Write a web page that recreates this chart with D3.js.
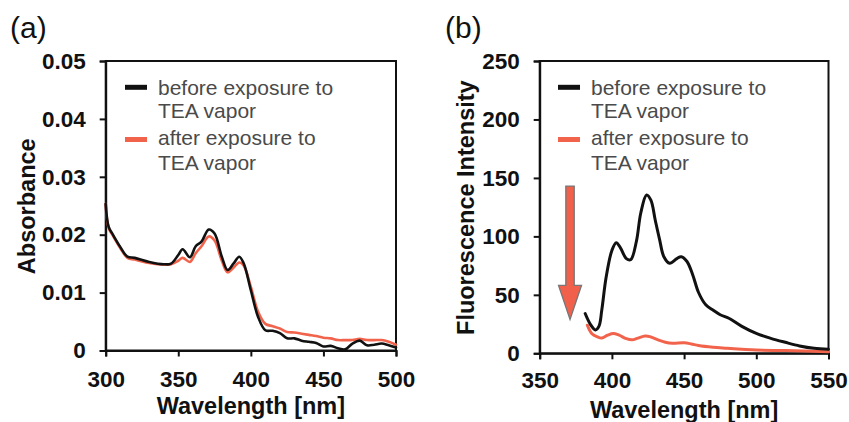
<!DOCTYPE html>
<html>
<head>
<meta charset="utf-8">
<script src="https://cdn.jsdelivr.net/npm/d3@7/dist/d3.min.js"></script>
<style>
  html, body { margin: 0; padding: 0; background: #fff; }
  svg { display: block; }
  .tick text { font-family: "Liberation Sans", Arial, sans-serif; font-weight: bold; font-size: 22.5px; fill: #111; }
  .axis-title { font-family: "Liberation Sans", Arial, sans-serif; font-weight: bold; font-size: 23.5px; fill: #111; }
  .legend-text { font-family: "Liberation Sans", Arial, sans-serif; font-size: 21px; fill: #4a4a4a; }
  .panel-label { font-family: "Liberation Sans", Arial, sans-serif; font-size: 30px; fill: #111; }
</style>
</head>
<body>
<svg id="chart" width="849" height="422"></svg>
<script>
// ---- (a) UV-vis absorbance ----
const absWavelength = [300,302,305,310,315,320,330,340,345,350,353,358,362,366,371,375,380,384,388,392,395,400,405,410,415,420,425,430,435,440,445,450,455,460,465,470,475,480,485,490,495,500];
const absBefore = [0.0253,0.0214,0.0200,0.0179,0.0162,0.0160,0.0153,0.0149,0.0150,0.0165,0.0175,0.0161,0.0180,0.0188,0.0209,0.0202,0.0162,0.0139,0.0150,0.0162,0.0151,0.0104,0.0058,0.0035,0.0034,0.0030,0.0021,0.0021,0.0017,0.0015,0.0013,0.0007,0.0008,0.0004,0.0002,0.0012,0.0017,0.0009,0.0010,0.0012,0.0009,0.0005];
const absAfter = [0.0253,0.0212,0.0198,0.0177,0.0160,0.0157,0.0151,0.0148,0.0149,0.0155,0.0160,0.0153,0.0168,0.0180,0.0197,0.0190,0.0155,0.0135,0.0143,0.0152,0.0147,0.0110,0.0067,0.0046,0.0042,0.0038,0.0032,0.0031,0.0029,0.0027,0.0025,0.0022,0.0021,0.0018,0.0018,0.0018,0.0020,0.0018,0.0018,0.0018,0.0015,0.0010];
const absXTicks = [300,350,400,450,500];
const absYTicks = [0,0.01,0.02,0.03,0.04,0.05];
const absYTickLabels = ["0","0.01","0.02","0.03","0.04","0.05"];

// ---- (b) fluorescence emission ----
const flBeforeWavelength = [381.5,385,388.5,391,393,396,400,403,406,410,413,417,420,424,427,430,433,436,440,445,448,452,456,460,465,470,475,481,490,500,510,520,530,540,550];
const flBefore = [34,25,20,23,37,65,88,94.6,90,81,80,96,120,135.4,131,114,97.5,82.6,77,81,82.6,78.5,67,52,41.5,37,33,30,23,17,12.8,9.4,6.3,4.3,3.5];
const flAfterWavelength = [383,386,390,393,397,401,405,410,414,418,423,427,432,437,442,450,455,460,470,480,490,500,520,550];
const flAfter = [24,17,14,13,15.5,17,15.5,12.5,11.5,13,14.8,14,11.5,9.5,8.6,9,8,6.6,5.1,4.3,3.5,2.8,2.3,1.4];
const flXTicks = [350,400,450,500,550];
const flYTicks = [0,50,100,150,200,250];
const flYTickLabels = ["0","50","100","150","200","250"];

// quenching arrow: wavelength position, start and end intensity
const arrowWavelength = 371;
const arrowFrom = 143;
const arrowTo = 29;

const seriesNames = ["before exposure to|TEA vapor", "after exposure to|TEA vapor"];
const seriesColors = ["#111111", "#f2634c"];

const svg = d3.select("#chart");

function drawPanel(opt) {
  const x = d3.scaleLinear().domain(opt.xDomain).range(opt.xRange);
  const y = d3.scaleLinear().domain(opt.yDomain).range(opt.yRange);
  const g = svg.append("g");

  // plot frame
  g.append("rect")
    .attr("x", opt.xRange[0]).attr("y", opt.yRange[1])
    .attr("width", opt.xRange[1] - opt.xRange[0])
    .attr("height", opt.yRange[0] - opt.yRange[1])
    .attr("fill", "none").attr("stroke", "#111").attr("stroke-width", 2);

  const xAxis = g.append("g")
    .attr("transform", `translate(0,${opt.yRange[0]})`)
    .call(d3.axisBottom(x).tickValues(opt.xTicks).tickSize(6).tickPadding(opt.xPad).tickFormat(d3.format("d")));
  const yAxis = g.append("g")
    .attr("transform", `translate(${opt.xRange[0]},0)`)
    .call(d3.axisLeft(y).tickValues(opt.yTicks).tickSize(6).tickPadding(opt.yPad)
      .tickFormat((d, i) => opt.yLabels[i]));
  [xAxis, yAxis].forEach(a => {
    a.select(".domain").attr("stroke", "#111").attr("stroke-width", 2);
    a.selectAll(".tick line").attr("stroke", "#111").attr("stroke-width", 2);
    a.attr("font-family", null).attr("font-size", null);
  });

  // spectra
  const line = d3.line().curve(d3.curveCatmullRom.alpha(0.5))
    .x(d => x(d[0])).y(d => y(d[1]));
  opt.series.forEach((s, i) => {
    const pts = s.wl.map((w, k) => [w, s.v[k]]);
    g.append("path").datum(pts)
      .attr("d", line)
      .attr("fill", "none")
      .attr("stroke", seriesColors[i])
      .attr("stroke-width", opt.lineWidth)
      .attr("stroke-linejoin", "round")
      .attr("stroke-linecap", "round");
  });
  // draw black on top of red in the overlapping region
  g.selectAll("path").filter(function() { return d3.select(this).attr("stroke") === seriesColors[0]; }).raise();

  // legend
  const legendRows = [[95, 118], [145, 169.5]];
  const sampleY = [87.3, 139.5];
  seriesNames.forEach((name, i) => {
    g.append("line")
      .attr("x1", opt.legendX).attr("x2", opt.legendX + 22)
      .attr("y1", sampleY[i]).attr("y2", sampleY[i])
      .attr("stroke", seriesColors[i]).attr("stroke-width", 5);
    name.split("|").forEach((t, k) => {
      g.append("text").attr("class", "legend-text")
        .attr("x", opt.legendX + 33).attr("y", legendRows[i][k]).text(t);
    });
  });

  // axis titles
  g.append("text").attr("class", "axis-title")
    .attr("text-anchor", "middle")
    .attr("x", (opt.xRange[0] + opt.xRange[1]) / 2).attr("y", opt.xTitleY)
    .text("Wavelength [nm]");
  g.append("text").attr("class", "axis-title")
    .attr("text-anchor", "middle")
    .attr("transform", `translate(${opt.yTitleX},${(opt.yRange[0] + opt.yRange[1]) / 2 + 0.5}) rotate(-90)`)
    .text(opt.yTitle);

  // panel label
  g.append("text").attr("class", "panel-label")
    .attr("x", opt.labelX).attr("y", 38).text(opt.label);

  return { g, x, y };
}

drawPanel({
  xDomain: [300, 500], xRange: [105.7, 396],
  yDomain: [0, 0.05], yRange: [350.5, 61],
  xTicks: absXTicks, yTicks: absYTicks, yLabels: absYTickLabels,
  xPad: 14.5, yPad: 14,
  series: [{ wl: absWavelength, v: absBefore }, { wl: absWavelength, v: absAfter }],
  lineWidth: 2.6,
  legendX: 125,
  xTitleY: 414, yTitleX: 35, yTitle: "Absorbance",
  label: "(a)", labelX: 10
});

const b = drawPanel({
  xDomain: [350, 550], xRange: [539.7, 828.5],
  yDomain: [0, 250], yRange: [353.3, 61],
  xTicks: flXTicks, yTicks: flYTicks, yLabels: flYTickLabels,
  xPad: 13, yPad: 14,
  series: [{ wl: flBeforeWavelength, v: flBefore }, { wl: flAfterWavelength, v: flAfter }],
  lineWidth: 3,
  legendX: 558,
  xTitleY: 418, yTitleX: 473.5, yTitle: "Fluorescence Intensity",
  label: "(b)", labelX: 445
});

// down arrow marking the quenching
{
  const cx = b.x(arrowWavelength);
  const top = b.y(arrowFrom), tip = b.y(arrowTo);
  const shaft = 4.2, head = 11.5, headLen = 34;
  const pts = [
    [cx - shaft, top], [cx + shaft, top], [cx + shaft, tip - headLen],
    [cx + head, tip - headLen], [cx, tip], [cx - head, tip - headLen],
    [cx - shaft, tip - headLen]
  ];
  b.g.append("polygon")
    .attr("points", pts.map(p => p.join(",")).join(" "))
    .attr("fill", "#f0604a").attr("stroke", "#777").attr("stroke-width", 1.3)
    .attr("stroke-linejoin", "miter");
}
</script>
</body>
</html>
